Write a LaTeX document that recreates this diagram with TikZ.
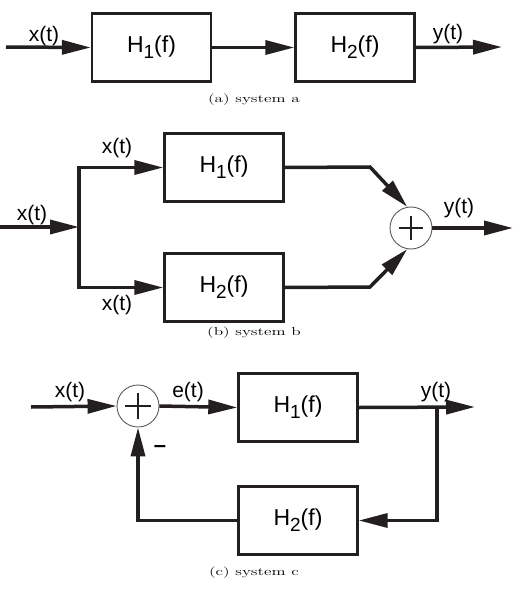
\documentclass[tikz,border=0pt]{standalone}
\usepackage{fontspec}
\usepackage{graphicx}
\usepackage{tikz}
\usetikzlibrary{arrows.meta, calc}
\newfontfamily\labelfont{Liberation Sans}
\definecolor{line_black}{HTML}{231F20}
\definecolor{ring_grey}{HTML}{5A5A5A}
\newcommand{\Hsub}[1]{H\raisebox{-6pt}{\fontsize{19}{19}\selectfont #1}(f)}
\newcommand{\capt}[1]{\scalebox{1.5}[1]{\fontsize{11.5}{13}\selectfont #1}}

\begin{document}
\begin{tikzpicture}[x=1pt, y=-1pt,
	block/.style={draw=line_black, line width=2.4pt, minimum width=119pt, minimum height=68pt, inner sep=0pt, font=\labelfont\fontsize{23}{23}\selectfont},
	signal/.style={line_black, line width=3.5pt, -{Triangle[length=29pt, width=14pt]}},
	summer/.style={circle, draw=ring_grey, line width=0.9pt, minimum size=42pt, inner sep=0pt},
	lbl/.style={inner sep=0pt, font=\labelfont\fontsize{21}{21}\selectfont},
	caption/.style={inner sep=0pt}]
	\useasboundingbox (0, 0) rectangle (530, 591);
	% system a
	\coordinate (ina) at (6, 47);
	\node[block] (a1) at (151.5, 47.5) {\Hsub{1}};
	\node[block] (a2) at (355, 47.5) {\Hsub{2}};
	\coordinate (outa) at (502, 47);
	\draw[signal] (ina) -- (a1.west);
	\draw[signal] (a1.east) -- (a2.west);
	\draw[signal] (a2.east) -- (outa);
	\node[lbl] (xa) at (44, 36) {x(t)};
	\node[lbl] (ya) at (448, 34) {y(t)};
	\node[caption] (capa) at (254, 100) {\capt{(a) system a}};
	% system b
	\coordinate (inb) at (0, 227);
	\coordinate (splitb) at (79, 227);
	\node[block] (b1) at (224, 167.5) {\Hsub{1}};
	\node[block] (b2) at (224, 287.5) {\Hsub{2}};
	\node[summer] (sumb) at (411, 228) {};
	\draw[line_black, line width=2pt] ($(sumb.center) + (-12, 0)$) -- ($(sumb.center) + (12, 0)$);
	\draw[line_black, line width=2pt] ($(sumb.center) + (0, -12)$) -- ($(sumb.center) + (0, 12)$);
	\coordinate (kb1) at (370, 167);
	\coordinate (kb2) at (370, 287);
	\coordinate (outb) at (513, 228);
	\draw[signal] (inb) -- (splitb);
	\draw[signal] (splitb) |- (b1.west);
	\draw[signal] (splitb) |- (b2.west);
	\draw[signal] (b1.east) -- (kb1) -- (sumb.100);
	\draw[signal] (b2.east) -- (kb2) -- (sumb.260);
	\draw[signal] (sumb.east) -- (outb);
	\node[lbl] (xb) at (32, 215) {x(t)};
	\node[lbl] (xb1) at (117, 148) {x(t)};
	\node[lbl] (xb2) at (117, 305) {x(t)};
	\node[lbl] (yb) at (459, 208) {y(t)};
	\node[caption] (capb) at (254, 333) {\capt{(b) system b}};
	% system c
	\coordinate (inc) at (31, 407);
	\node[summer] (sumc) at (138, 406) {};
	\draw[line_black, line width=2pt] ($(sumc.center) + (-13, 0)$) -- ($(sumc.center) + (13, 0)$);
	\draw[line_black, line width=2pt] ($(sumc.center) + (0, -13)$) -- ($(sumc.center) + (0, 13)$);
	\node[block] (c1) at (298, 407.5) {\Hsub{1}};
	\node[block] (c2) at (298, 520.5) {\Hsub{2}};
	\coordinate (brc) at (437, 407);
	\coordinate (outc) at (475, 407);
	\draw[signal] (inc) -- (sumc.west);
	\draw[signal] (sumc.east) -- (c1.west);
	\draw[signal] (c1.east) -- (outc);
	\draw[signal] (brc) |- (c2.east);
	\draw[signal] (c2.west) -| (sumc.south);
	\node[lbl] (xc) at (70, 392) {x(t)};
	\node[lbl] (ec) at (188, 392) {e(t)};
	\node[lbl] (yc) at (436, 392) {y(t)};
	\node[lbl, font=\labelfont\bfseries\fontsize{22}{22}\selectfont] (minus) at (160, 449) {\textendash};
	\node[caption] (capc) at (254, 573) {\capt{(c) system c}};
\end{tikzpicture}
\end{document}
